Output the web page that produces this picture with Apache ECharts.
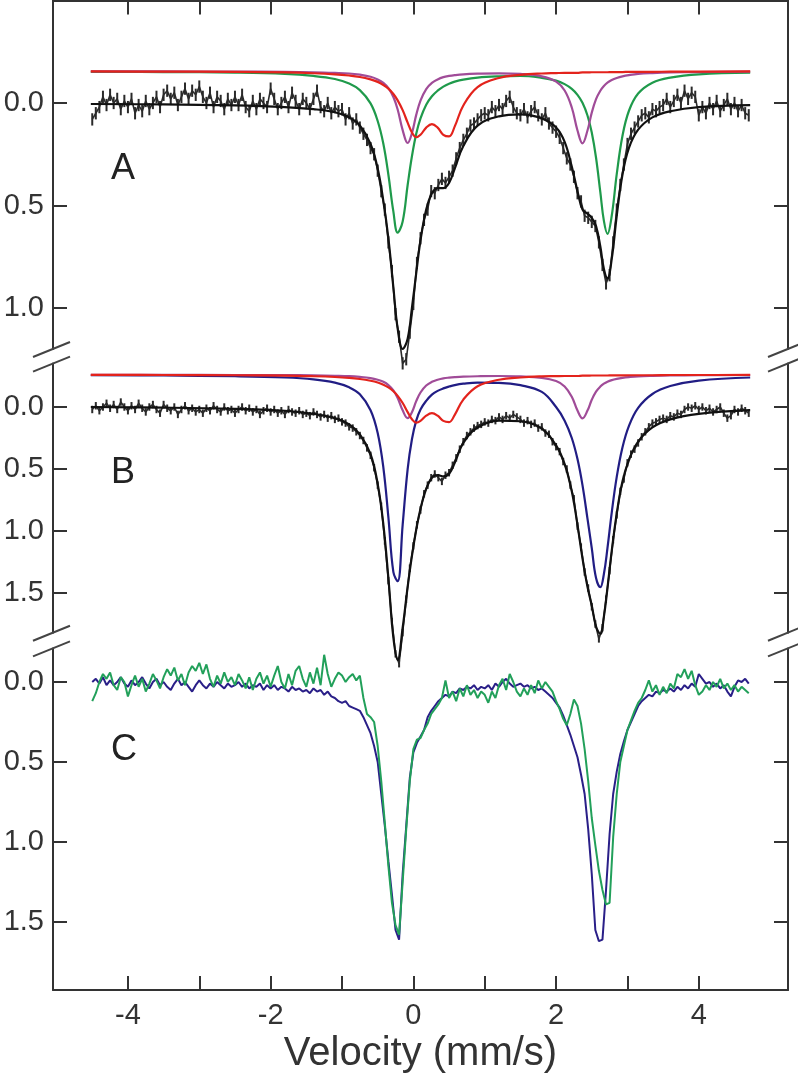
<!DOCTYPE html>
<html><head><meta charset="utf-8">
<script src="https://cdn.jsdelivr.net/npm/echarts@6/dist/echarts.min.js"></script>
<style>html,body{margin:0;padding:0;background:#fff}#chart{width:798px;height:1080px}</style>
</head><body><div id="chart"></div>
<script>
// ---- channel velocities of measured spectra (mm/s) ----
const velStart = -4.5, velStep = 0.05, nChan = 185;
const vel = Array.from({length: nChan}, (_, i) => +(velStart + velStep * i).toFixed(2));

// ---- panel A measured data ----
const dataA = [
 0.08,0.05,0.02,-0.03,0.01,-0.04,0.0,-0.02,0.03,-0.01,
 0.02,-0.02,0.05,0.01,0.04,-0.01,0.03,0.0,-0.03,0.02,
 -0.04,-0.06,-0.02,-0.05,0.01,-0.03,-0.07,-0.02,-0.06,-0.04,
 -0.08,-0.03,0.0,-0.05,0.02,-0.03,-0.01,0.03,-0.02,0.01,
 -0.03,0.01,-0.04,0.02,0.04,-0.01,0.03,-0.02,0.0,0.02,
 -0.07,-0.02,0.03,0.0,-0.03,0.02,-0.05,-0.01,0.03,-0.02,
 0.0,0.03,-0.02,-0.06,0.02,0.04,0.0,0.05,0.02,0.04,
 0.03,0.08,0.05,0.10,0.08,0.12,0.15,0.18,0.22,0.25,
 0.33,0.43,0.52,0.68,0.82,1.03,1.14,1.27,1.25,1.12,
 0.98,0.78,0.66,0.57,0.52,0.43,0.44,0.40,0.37,0.39,
 0.36,0.33,0.27,0.22,0.18,0.15,0.11,0.10,0.08,0.06,
 0.05,0.06,0.02,0.04,0.01,0.03,-0.01,-0.03,0.02,0.05,
 0.06,0.03,0.07,0.04,0.02,0.06,0.08,0.05,0.10,0.12,
 0.14,0.17,0.22,0.27,0.30,0.36,0.44,0.48,0.55,0.56,
 0.58,0.60,0.68,0.79,0.88,0.84,0.68,0.52,0.40,0.30,
 0.20,0.15,0.12,0.09,0.06,0.05,0.07,0.03,0.04,0.02,
 0.01,-0.02,0.02,-0.01,-0.04,0.0,-0.06,-0.02,-0.05,-0.03,
 0.06,0.02,0.05,0.0,0.03,-0.01,0.04,0.01,-0.02,0.03,
 0.0,0.04,0.01,0.05,0.06];
const errA = 0.03;

// ---- panel B measured data ----
const dataB = [
 0.02,-0.01,0.03,0.0,-0.03,0.01,-0.02,0.02,-0.04,0.0,
 0.03,-0.01,0.02,-0.03,0.01,0.04,0.0,-0.02,0.02,0.05,
 -0.02,0.01,0.03,0.0,0.06,0.02,-0.01,0.03,0.01,0.04,
 0.02,0.05,0.01,0.03,-0.01,0.02,0.04,0.0,0.03,0.02,
 0.05,0.02,0.0,0.03,0.01,0.04,0.02,0.06,0.03,0.01,
 0.04,0.02,0.05,0.03,0.06,0.02,0.04,0.05,0.03,0.06,
 0.05,0.07,0.04,0.06,0.08,0.06,0.09,0.07,0.10,0.09,
 0.12,0.13,0.16,0.17,0.20,0.23,0.27,0.33,0.39,0.49,
 0.63,0.80,1.08,1.40,1.73,1.99,2.07,1.82,1.55,1.30,
 1.12,0.95,0.83,0.70,0.63,0.57,0.54,0.57,0.60,0.55,
 0.53,0.47,0.41,0.34,0.28,0.23,0.20,0.17,0.15,0.14,
 0.12,0.13,0.10,0.11,0.08,0.10,0.07,0.09,0.06,0.08,
 0.10,0.13,0.11,0.14,0.13,0.17,0.16,0.21,0.22,0.28,
 0.32,0.36,0.44,0.50,0.63,0.74,0.96,1.13,1.33,1.46,
 1.61,1.75,1.87,1.78,1.55,1.32,1.07,0.87,0.68,0.58,
 0.45,0.38,0.34,0.29,0.24,0.20,0.16,0.13,0.12,0.10,
 0.09,0.10,0.07,0.08,0.05,0.06,0.02,0.0,0.01,-0.01,
 0.02,0.0,0.03,0.01,0.04,0.02,0.0,0.05,0.09,0.07,
 0.02,0.04,0.01,0.03,0.05];
const errB = 0.03;

// ---- panel C measured spectra ----
const cNavy = [
 0.0,-0.02,0.01,-0.03,0.02,-0.01,0.02,0.0,-0.03,0.01,
 0.03,-0.01,0.02,0.0,-0.03,0.01,0.04,0.0,-0.02,0.02,
 0.0,0.03,0.05,0.01,-0.02,0.02,0.0,0.03,0.06,0.02,
 -0.01,0.02,0.04,0.01,0.03,0.0,0.02,0.04,0.01,0.03,
 0.02,0.0,0.03,0.01,0.04,0.02,0.03,0.01,0.05,0.02,
 0.04,0.02,0.05,0.03,0.04,0.06,0.03,0.05,0.04,0.06,
 0.05,0.07,0.04,0.06,0.05,0.08,0.06,0.09,0.10,0.12,
 0.13,0.12,0.15,0.16,0.17,0.18,0.22,0.27,0.32,0.40,
 0.50,0.70,0.90,1.12,1.33,1.55,1.61,1.20,0.90,0.60,
 0.44,0.38,0.34,0.30,0.22,0.18,0.15,0.12,0.10,0.08,
 0.09,0.06,0.07,0.04,0.05,0.03,0.04,0.02,0.05,0.03,
 0.04,0.02,0.05,0.01,0.03,0.0,-0.02,0.01,0.03,0.02,
 0.01,0.03,0.02,0.04,0.03,0.05,0.04,0.06,0.08,0.10,
 0.13,0.16,0.21,0.27,0.33,0.40,0.47,0.58,0.70,0.92,
 1.20,1.55,1.62,1.61,1.30,0.95,0.70,0.56,0.45,0.37,
 0.30,0.25,0.20,0.15,0.12,0.10,0.08,0.09,0.06,0.07,
 0.05,0.06,0.04,0.06,0.03,0.05,0.02,0.04,0.01,0.03,
 -0.05,-0.02,0.01,0.0,0.03,0.01,0.04,0.02,0.06,0.09,
 0.03,-0.01,0.0,-0.02,0.01];
const cGreen = [
 0.12,0.07,0.0,-0.05,-0.02,-0.06,0.02,0.05,-0.03,0.0,
 0.09,0.02,-0.04,0.03,-0.02,0.06,0.01,-0.05,-0.01,0.04,
 -0.03,-0.08,-0.04,-0.09,-0.01,-0.05,0.02,-0.06,-0.10,-0.07,
 -0.12,-0.05,-0.11,-0.02,0.03,-0.04,0.01,-0.06,0.0,-0.03,
 0.02,-0.05,-0.01,0.04,-0.03,0.05,-0.02,-0.06,0.01,-0.04,
 0.03,-0.04,-0.10,0.0,0.04,-0.05,0.02,-0.07,-0.10,-0.02,
 0.03,-0.06,0.01,-0.09,0.02,-0.17,-0.05,0.03,-0.02,-0.06,
 -0.04,0.0,-0.03,-0.05,-0.01,-0.04,0.10,0.20,0.22,0.25,
 0.40,0.62,0.88,1.15,1.38,1.52,1.58,1.25,0.92,0.62,
 0.42,0.36,0.35,0.30,0.26,0.20,0.17,0.14,0.10,-0.01,
 0.10,0.06,0.12,0.04,0.09,0.02,0.08,0.05,0.10,0.06,
 0.08,0.13,0.06,0.10,0.02,-0.02,0.05,-0.05,0.0,0.06,
 0.09,0.04,0.08,0.02,0.07,-0.01,0.04,0.0,0.03,0.06,
 0.12,0.17,0.23,0.27,0.20,0.11,0.15,0.26,0.42,0.62,
 0.85,1.02,1.18,1.30,1.39,1.38,0.97,0.70,0.50,0.40,
 0.30,0.24,0.18,0.13,0.10,0.05,-0.01,0.06,0.02,0.08,
 0.03,0.07,0.01,0.04,-0.05,-0.03,-0.08,-0.02,-0.07,0.02,
 0.08,0.06,0.02,0.05,0.0,0.03,-0.02,0.04,0.01,0.05,
 0.02,0.06,0.03,0.05,0.07];

// ---- fitted curves (sampled velocities) ----
const fitX = [-4.52,-3.5,-2.5,-1.8,-1.4,-1.1,-0.9,-0.75,-0.6,-0.5,
 -0.42,-0.35,-0.28,-0.22,-0.15,-0.08,-0.02,0.04,0.1,0.18,
 0.26,0.34,0.42,0.5,0.58,0.7,0.9,1.2,1.5,1.8,
 2.0,2.12,2.22,2.3,2.37,2.44,2.5,2.56,2.62,2.67,
 2.72,2.78,2.85,2.93,3.02,3.15,3.35,3.6,4.0,4.72];

const aFit = [0.005,0.007,0.012,0.02,0.03,0.045,0.07,0.11,0.2,0.32,
 0.48,0.66,0.9,1.1,1.2,1.15,1.0,0.83,0.67,0.52,
 0.44,0.415,0.415,0.39,0.32,0.21,0.11,0.065,0.055,0.075,
 0.12,0.19,0.31,0.43,0.52,0.54,0.56,0.6,0.7,0.81,
 0.855,0.76,0.55,0.35,0.22,0.13,0.07,0.04,0.02,0.01];
const aGreen = [-0.152,-0.151,-0.148,-0.142,-0.132,-0.117,-0.095,-0.063,0.002,0.088,
 0.20,0.35,0.53,0.632,0.578,0.40,0.26,0.15,0.075,0.008,
 -0.033,-0.06,-0.08,-0.094,-0.104,-0.114,-0.124,-0.130,-0.132,-0.123,
 -0.109,-0.092,-0.069,-0.040,-0.001,0.061,0.144,0.267,0.435,0.575,
 0.638,0.55,0.347,0.161,0.039,-0.046,-0.099,-0.124,-0.140,-0.148];
const aPurple = [-0.154,-0.154,-0.153,-0.152,-0.150,-0.147,-0.144,-0.138,-0.128,-0.115,
 -0.098,-0.072,-0.029,0.032,0.132,0.195,0.147,0.058,-0.012,-0.068,
 -0.098,-0.115,-0.126,-0.132,-0.136,-0.140,-0.143,-0.145,-0.142,-0.130,
 -0.104,-0.061,0.022,0.134,0.197,0.134,0.047,-0.019,-0.06,-0.083,
 -0.099,-0.112,-0.122,-0.130,-0.136,-0.142,-0.146,-0.149,-0.151,-0.153];
const aRed = [-0.154,-0.153,-0.152,-0.149,-0.145,-0.14,-0.134,-0.127,-0.115,-0.103,
 -0.088,-0.07,-0.044,-0.013,0.035,0.096,0.144,0.167,0.155,0.12,
 0.103,0.12,0.155,0.163,0.114,0.012,-0.078,-0.122,-0.137,-0.144,
 -0.146,-0.147,-0.147,-0.147,-0.149,-0.149,-0.15,-0.15,-0.15,-0.15,
 -0.15,-0.151,-0.151,-0.151,-0.152,-0.152,-0.152,-0.153,-0.153,-0.154];

const bFit = [0.0,0.005,0.015,0.03,0.055,0.09,0.14,0.22,0.38,0.62,
 0.95,1.38,1.86,2.04,1.78,1.45,1.2,0.99,0.82,0.66,
 0.57,0.55,0.56,0.54,0.45,0.29,0.165,0.11,0.115,0.175,
 0.31,0.46,0.68,0.95,1.22,1.45,1.6,1.77,1.83,1.69,
 1.46,1.16,0.86,0.6,0.43,0.28,0.165,0.1,0.055,0.025];
const bNavy = [-0.256,-0.254,-0.248,-0.238,-0.223,-0.197,-0.159,-0.102,0.026,0.21,
 0.49,0.89,1.332,1.405,0.95,0.5,0.26,0.11,0.02,-0.05,
 -0.1,-0.13,-0.15,-0.165,-0.177,-0.188,-0.197,-0.195,-0.176,-0.122,
 0.0,0.11,0.25,0.42,0.63,0.9,1.138,1.379,1.453,1.347,
 1.138,0.851,0.564,0.327,0.154,0.007,-0.105,-0.169,-0.213,-0.238];
const bPurple = [-0.259,-0.259,-0.258,-0.257,-0.255,-0.252,-0.249,-0.243,-0.233,-0.22,
 -0.203,-0.177,-0.134,-0.073,0.027,0.09,0.042,-0.047,-0.117,-0.173,
 -0.203,-0.22,-0.231,-0.237,-0.241,-0.245,-0.248,-0.25,-0.247,-0.235,
 -0.209,-0.166,-0.083,0.029,0.092,0.029,-0.058,-0.124,-0.165,-0.188,
 -0.204,-0.217,-0.227,-0.235,-0.241,-0.247,-0.251,-0.254,-0.256,-0.258];
const bRed = [-0.259,-0.258,-0.256,-0.253,-0.248,-0.242,-0.235,-0.226,-0.212,-0.198,
 -0.18,-0.158,-0.127,-0.09,-0.032,0.041,0.099,0.126,0.112,0.07,
 0.05,0.07,0.112,0.122,0.063,-0.06,-0.168,-0.22,-0.238,-0.247,
 -0.249,-0.25,-0.25,-0.25,-0.253,-0.253,-0.254,-0.254,-0.254,-0.254,
 -0.254,-0.255,-0.255,-0.255,-0.256,-0.256,-0.256,-0.258,-0.258,-0.259];

// ---- ticks ----
const xTicks = [-4,-3,-2,-1,0,1,2,3,4];
const xLabels = [-4,-2,0,2,4];
const yTicksA = [0,0.5,1.0];
const yTicksB = [0,0.5,1.0,1.5];
const yTicksC = [0,0.5,1.0,1.5];
const panelNames = ['A','B','C'];
const xTitle = 'Velocity (mm/s)';

// ---------------------------------------------------------------
const FONT = 'Liberation Sans, Arial, Helvetica, sans-serif';
const AX = '#333333';
const chart = echarts.init(document.getElementById('chart'));
const pairs = (xs, ys) => ys.map((y, i) => [xs[i], y]);

const X0 = 53, X1 = 788;
const grids = [
  {left: X0, right: 798 - X1, top: 0.5, height: 348.5},
  {left: X0, right: 798 - X1, top: 363.6, height: 269.1},
  {left: X0, right: 798 - X1, top: 648.4, height: 341.6}
];
const yRanges = [[-0.5, 1.2], [-0.35, 1.82], [-0.21, 1.925]];
const yTicks = [yTicksA, yTicksB, yTicksC];

function xAxisFor(g) {
  const base = {
    type: 'value', gridIndex: g, min: -5.05, max: 5.25,
    splitLine: {show: false},
    axisLine: {show: true, onZero: false, lineStyle: {color: AX, width: 2}},
    axisTick: {show: true, inside: true, length: 14, customValues: xTicks, lineStyle: {color: AX, width: 2}},
    axisLabel: {show: false}
  };
  if (g === 0) return Object.assign(base, {position: 'top'});
  if (g === 1) return Object.assign(base, {show: false});
  return Object.assign(base, {
    position: 'bottom',
    axisLabel: {show: true, customValues: xLabels, formatter: v => String(v), fontSize: 29, color: AX, fontFamily: FONT, margin: 11},
    name: xTitle, nameLocation: 'middle', nameGap: 44,
    nameTextStyle: {fontSize: 40, color: AX, fontFamily: FONT}
  });
}
function yAxisFor(g, side) {
  return {
    type: 'value', gridIndex: g, position: side, inverse: true,
    min: yRanges[g][0], max: yRanges[g][1],
    splitLine: {show: false},
    axisLine: {show: true, onZero: false, lineStyle: {color: AX, width: 2}},
    axisTick: {show: true, inside: true, length: 14, customValues: yTicks[g], lineStyle: {color: AX, width: 2}},
    axisLabel: side === 'left'
      ? {show: true, customValues: yTicks[g], formatter: v => (+v).toFixed(1), fontSize: 29, color: AX, fontFamily: FONT, margin: 9}
      : {show: false}
  };
}

function errSeries(data, err, axis) {
  return {
    type: 'custom', xAxisIndex: axis, yAxisIndex: axis * 2, clip: false, silent: true,
    data: pairs(vel, data), encode: {x: 0, y: 1},
    renderItem: (params, api) => {
      const x = api.value(0), y = api.value(1);
      const p1 = api.coord([x, y - err]), p2 = api.coord([x, y + err]);
      return {type: 'line', shape: {x1: p1[0], y1: p1[1], x2: p2[0], y2: p2[1]}, style: {stroke: '#2a2a2a', lineWidth: 2}};
    }
  };
}
function lineSeries(data, color, width, axis, smooth) {
  return {
    type: 'line', xAxisIndex: axis, yAxisIndex: axis * 2, data: data,
    showSymbol: false, symbol: 'none', clip: false, smooth: smooth ? 0.4 : false,
    lineStyle: {color: color, width: width}, itemStyle: {color: color}, silent: true, z: 3
  };
}

const GREEN = '#1f9a4b', PURPLE = '#a04c98', RED = '#e3231c', NAVY = '#211d84';
const series = [
  errSeries(dataA, errA, 0),
  lineSeries(pairs(vel, dataA), '#2a2a2a', 1.6, 0, false),
  lineSeries(pairs(fitX, aGreen), GREEN, 2.2, 0, true),
  lineSeries(pairs(fitX, aPurple), PURPLE, 2.2, 0, true),
  lineSeries(pairs(fitX, aRed), RED, 2.2, 0, true),
  lineSeries(pairs(fitX, aFit), '#111', 2.2, 0, true),

  errSeries(dataB, errB, 1),
  lineSeries(pairs(vel, dataB), '#2a2a2a', 1.6, 1, false),
  lineSeries(pairs(fitX, bNavy), NAVY, 2.2, 1, true),
  lineSeries(pairs(fitX, bPurple), PURPLE, 2.2, 1, true),
  lineSeries(pairs(fitX, bRed), RED, 2.2, 1, true),
  lineSeries(pairs(fitX, bFit), '#111', 2.2, 1, true),

  lineSeries(pairs(vel, cNavy), '#2a1f88', 2, 2, false),
  lineSeries(pairs(vel, cGreen), '#22a05a', 2, 2, false)
];

function slash(x1, y1, x2, y2) {
  return {type: 'line', shape: {x1, y1, x2, y2}, style: {stroke: '#444', lineWidth: 2}, z: 10};
}
const graphics = [];
[[349, 363.6], [632.7, 648.4]].forEach(([ya, yb]) => {
  [X0, X1].forEach(xa => {
    graphics.push(slash(xa - 20, ya + 8, xa + 17, ya - 7));
    graphics.push(slash(xa - 20, yb + 8, xa + 17, yb - 7));
  });
});
const labelPos = [171, 475, 752];
panelNames.forEach((t, i) => {
  graphics.push({type: 'text', left: 111, top: labelPos[i] - 20, z: 10,
    style: {text: t, fontSize: 36, fontFamily: FONT, fill: '#222'}});
});

chart.setOption({
  animation: false,
  backgroundColor: '#fff',
  grid: grids,
  xAxis: [xAxisFor(0), xAxisFor(1), xAxisFor(2)],
  yAxis: [yAxisFor(0,'left'), yAxisFor(0,'right'), yAxisFor(1,'left'), yAxisFor(1,'right'), yAxisFor(2,'left'), yAxisFor(2,'right')],
  series: series,
  graphic: graphics
});
</script>
</body></html>
